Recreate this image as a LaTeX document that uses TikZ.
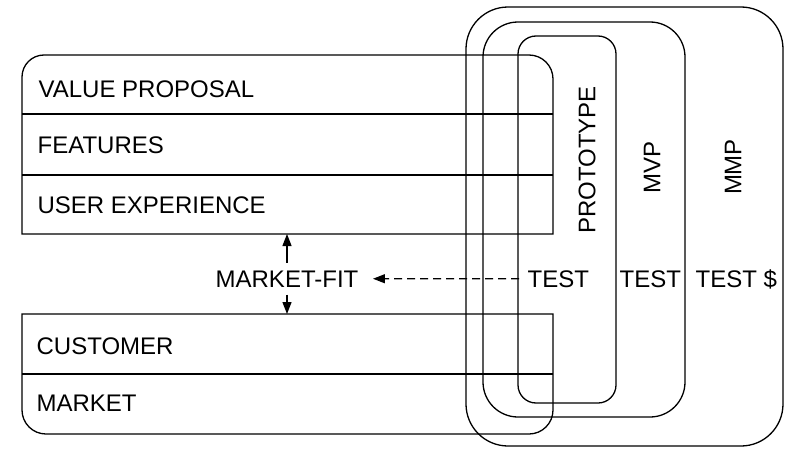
\documentclass[tikz,border=0pt]{standalone}
\usepackage{fontspec}
\setmainfont{Liberation Sans}
\usetikzlibrary{arrows.meta}
\begin{document}
\begin{tikzpicture}[x=1pt,y=1pt,line width=1.3pt,
  lbl/.style={font=\fontsize{24}{28}\selectfont,inner sep=0pt},
  vlbl/.style={font=\fontsize{24}{28}\selectfont,inner sep=0pt,rotate=90},
  stage/.style={draw,rectangle,inner sep=0pt},
  tip/.style={-{Triangle[length=12pt,width=9pt]}}]
\useasboundingbox (0,0) rectangle (800,-452);
% top box
\draw (22,-234) -- (22,-77) arc[start angle=180,end angle=90,radius=22] -- (529,-55) arc[start angle=90,end angle=0,radius=24] -- (553,-234) -- cycle;
\draw (22,-114) -- (553,-114);
\draw (22,-175) -- (553,-175);
% bottom box
\draw (22,-314) -- (553,-314) -- (553,-410) arc[start angle=0,end angle=-90,radius=24] -- (46,-434) arc[start angle=270,end angle=180,radius=24] -- cycle;
\draw (22,-374) -- (553,-374);
% stage boxes
\node[stage,rounded corners=42pt,minimum width=317pt,minimum height=439pt] (mmp) at (624.5,-226.5) {};
\node[stage,rounded corners=35pt,minimum width=202pt,minimum height=395pt] (mvp) at (584,-219.5) {};
\node[stage,rounded corners=18pt,minimum width=98pt,minimum height=367pt] (proto) at (567,-219.5) {};
% labels
\node[lbl,anchor=base west] (vp) at (38,-97) {VALUE PROPOSAL};
\node[lbl,anchor=base west] (feat) at (37,-153) {FEATURES};
\node[lbl,anchor=base west] (ux) at (37,-213) {USER EXPERIENCE};
\node[lbl,anchor=base west] (cust) at (36,-354) {CUSTOMER};
\node[lbl,anchor=base west] (mkt) at (36,-411) {MARKET};
\node[vlbl] (protol) at (587,-160) {PROTOTYPE};
\node[vlbl] (mvpl) at (652,-167) {MVP};
\node[vlbl] (mmpl) at (733,-167) {MMP};
\node[lbl,anchor=base west,inner xsep=8pt] (t1) at (519,-287) {TEST};
\node[lbl,anchor=base west] (t2) at (619,-287) {TEST};
\node[lbl,anchor=base west] (t3) at (695,-287) {TEST \$};
\node[lbl,anchor=base,inner xsep=14pt,inner ysep=7pt] (mf) at (287,-287) {MARKET-FIT};
\coordinate (topedge) at (287,-234);
\coordinate (botedge) at (287,-314);
% connectors
\draw[tip] (mf.north) -- (topedge);
\draw[tip] (mf.south) -- (botedge);
\draw[tip,dash pattern=on 8pt off 5pt] (t1.west) -- (mf.east);
\end{tikzpicture}
\end{document}
